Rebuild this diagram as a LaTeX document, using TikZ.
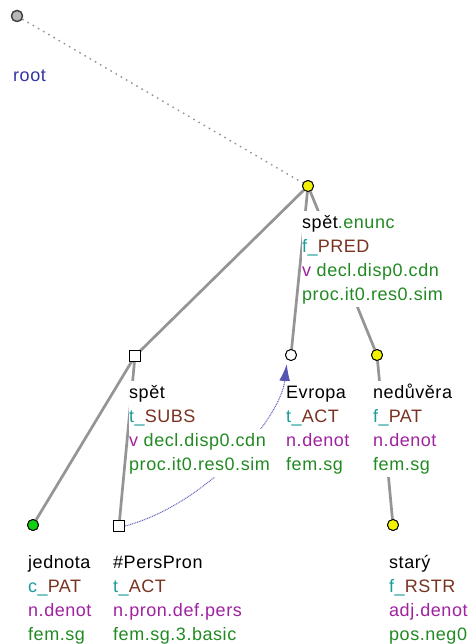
\documentclass[tikz,border=0pt]{standalone}
\usepackage{fontspec}
\newfontfamily\labfont{Liberation Sans}[LetterSpace=3.0]
\usetikzlibrary{arrows.meta}
\definecolor{edgegray}{HTML}{959595}
\definecolor{fteal}{HTML}{1A9C9C}
\definecolor{fbrown}{HTML}{7A3222}
\definecolor{fpurple}{HTML}{A022A0}
\definecolor{fgreen}{HTML}{228A22}
\definecolor{rootblue}{HTML}{3434A4}
\definecolor{corefblue}{HTML}{6262C0}
\definecolor{arrowblue}{HTML}{5555B5}
\definecolor{tyellow}{HTML}{F2F200}
\definecolor{tgreen}{HTML}{10D010}
\begin{document}
\begin{tikzpicture}[x=1pt,y=-1pt,
  tnode/.style={circle,draw=black,line width=0.9pt,minimum size=11pt,inner sep=0pt},
  tsquare/.style={rectangle,draw=black,fill=white,line width=0.9pt,minimum size=11pt,inner sep=0pt},
  tedge/.style={draw=edgegray,line width=2.7pt},
  rootedge/.style={draw=edgegray,line width=1.4pt,dash pattern=on 1.6pt off 4.4pt},
  coref/.style={draw=corefblue,line width=1pt,dash pattern=on 1pt off 0.8pt,
    -{Latex[length=17pt,width=11pt,fill=arrowblue,color=arrowblue]}},
  lab/.style={anchor=base west,inner sep=0pt,fill=white,text height=17.5pt,text depth=7pt,
    font=\labfont\fontsize{18}{24}\selectfont}
]
\useasboundingbox (0,0) rectangle (469,644);
\fill[white] (0,0) rectangle (469,644);

% nodes
\node[tnode,fill=black!28,draw=black!75,line width=1.3pt] (root) at (17,16) {};
\node[tnode,fill=tyellow] (spetenunc) at (308,186) {};
\node[tsquare] (spet) at (135,356) {};
\node[tnode,fill=white] (evropa) at (291,355) {};
\node[tnode,fill=tyellow] (neduvera) at (377,355) {};
\node[tnode,fill=tgreen] (jednota) at (33,525) {};
\node[tsquare] (perspron) at (119,526) {};
\node[tnode,fill=tyellow] (stary) at (393,525) {};

% edges (behind labels)
\draw[rootedge] (root) -- (spetenunc);
\draw[tedge] (spetenunc.center) -- (spet.center);
\draw[tedge] (spetenunc.center) -- (evropa.center);
\draw[tedge] (spetenunc.center) -- (neduvera.center);
\draw[tedge] (spet.center) -- (jednota.center);
\draw[tedge] (spet.center) -- (perspron.center);
\draw[tedge] (neduvera.center) -- (stary.center);
\draw[coref] (perspron.east) .. controls (205,505) and (280,420) .. ([yshift=-5pt]evropa.south west);

% redraw node symbols on top of edges
\node[tnode,fill=black!28,draw=black!75,line width=1.3pt] at (17,16) {};
\node[tnode,fill=tyellow] at (308,186) {};
\node[tsquare] at (135,356) {};
\node[tnode,fill=white] at (291,355) {};
\node[tnode,fill=tyellow] at (377,355) {};
\node[tnode,fill=tgreen] at (33,525) {};
\node[tsquare] at (119,526) {};
\node[tnode,fill=tyellow] at (393,525) {};

% root label
\node[lab,text=rootblue] (lroot) at (13,82) {root};

% spět.enunc
\node[lab] (l1a) at (302,228) {spět\textcolor{fgreen}{.enunc}};
\node[lab] (l1b) at (302,252) {\textcolor{fteal}{f\_}\textcolor{fbrown}{PRED}};
\node[lab] (l1c) at (302,276) {\textcolor{fpurple}{v}\ \textcolor{fgreen}{decl.disp0.cdn}};
\node[lab,text=fgreen] (l1d) at (302,300) {proc.it0.res0.sim};

% spět
\node[lab] (l2a) at (129,398) {spět};
\node[lab] (l2b) at (129,422) {\textcolor{fteal}{t\_}\textcolor{fbrown}{SUBS}};
\node[lab] (l2c) at (129,446) {\textcolor{fpurple}{v}\ \textcolor{fgreen}{decl.disp0.cdn}};
\node[lab,text=fgreen] (l2d) at (129,470) {proc.it0.res0.sim};

% Evropa
\node[lab] (l3a) at (286,398) {Evropa};
\node[lab] (l3b) at (286,422) {\textcolor{fteal}{t\_}\textcolor{fbrown}{ACT}};
\node[lab,text=fpurple] (l3c) at (286,446) {n.denot};
\node[lab,text=fgreen] (l3d) at (286,470) {fem.sg};

% nedůvěra
\node[lab] (l4a) at (373,398) {nedůvěra};
\node[lab] (l4b) at (373,422) {\textcolor{fteal}{f\_}\textcolor{fbrown}{PAT}};
\node[lab,text=fpurple] (l4c) at (373,446) {n.denot};
\node[lab,text=fgreen] (l4d) at (373,470) {fem.sg};

% jednota
\node[lab] (l5a) at (28,568) {jednota};
\node[lab] (l5b) at (28,592) {\textcolor{fteal}{c\_}\textcolor{fbrown}{PAT}};
\node[lab,text=fpurple] (l5c) at (28,616) {n.denot};
\node[lab,text=fgreen] (l5d) at (28,640) {fem.sg};

% #PersPron
\node[lab] (l6a) at (113,568) {\#PersPron};
\node[lab] (l6b) at (113,592) {\textcolor{fteal}{t\_}\textcolor{fbrown}{ACT}};
\node[lab,text=fpurple] (l6c) at (113,616) {n.pron.def.pers};
\node[lab,text=fgreen] (l6d) at (113,640) {fem.sg.3.basic};

% starý
\node[lab] (l7a) at (389,568) {starý};
\node[lab] (l7b) at (389,592) {\textcolor{fteal}{f\_}\textcolor{fbrown}{RSTR}};
\node[lab,text=fpurple] (l7c) at (389,616) {adj.denot};
\node[lab,text=fgreen] (l7d) at (389,640) {pos.neg0};
\end{tikzpicture}
\end{document}
